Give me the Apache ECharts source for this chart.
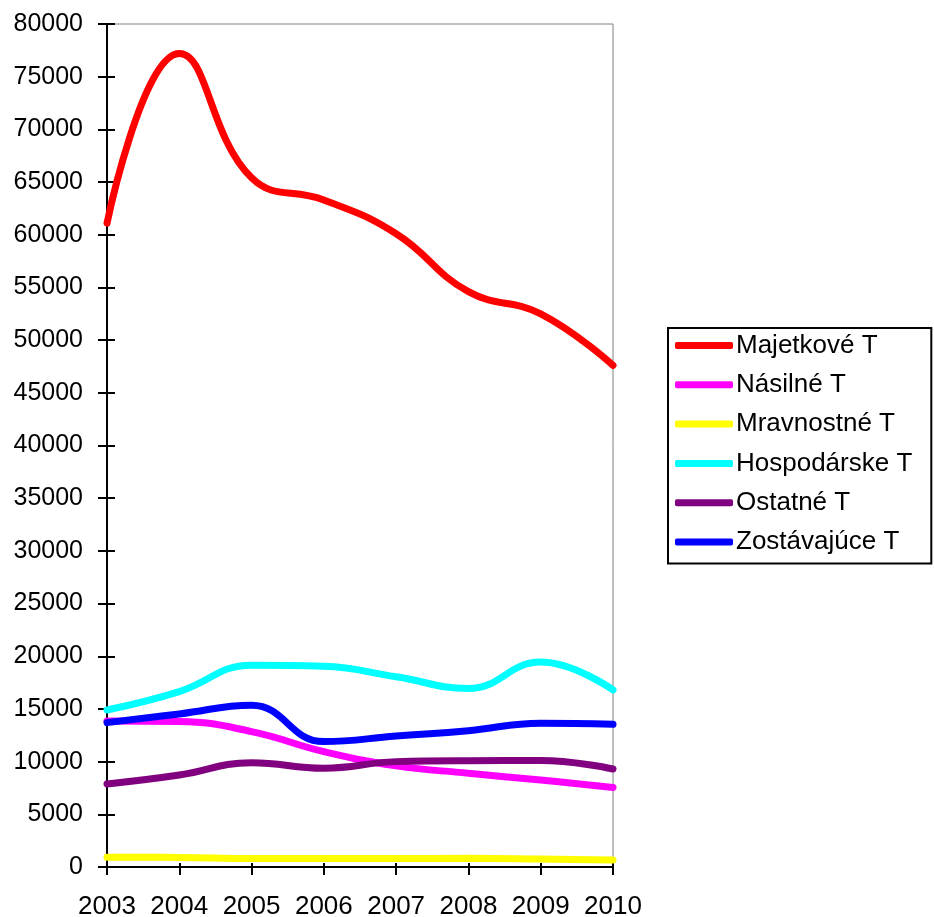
<!DOCTYPE html>
<html>
<head>
<meta charset="utf-8">
<script src="https://cdn.jsdelivr.net/npm/echarts@6/dist/echarts.min.js"></script>
<style>
  html, body { margin: 0; padding: 0; background: #fff; }
  #main { width: 934px; height: 917px; }
</style>
</head>
<body>
<div id="main"></div>
<script>
// roky
var years = ['2003', '2004', '2005', '2006', '2007', '2008', '2009', '2010'];

// hodnoty odčítané z grafu
var majetkove = [61100, 77200, 65400, 63300, 60100, 54600, 52500, 47600];
var nasilne = [13850, 13800, 12850, 10950, 9600, 8900, 8250, 7550];
var mravnostne = [920, 910, 800, 800, 810, 820, 760, 670];
var hospodarske = [14900, 16650, 19150, 19050, 18050, 16950, 19450, 16800];
var ostatne = [7880, 8730, 9900, 9370, 10000, 10090, 10100, 9300];
var zostavajuce = [13700, 14520, 15350, 11900, 12430, 12940, 13640, 13540];

var names = ['Majetkové T', 'Násilné T', 'Mravnostné T', 'Hospodárske T', 'Ostatné T', 'Zostávajúce T'];
var colors = ['#ff0000', '#ff00ff', '#ffff00', '#00ffff', '#800080', '#0000ff'];
var values = [majetkove, nasilne, mravnostne, hospodarske, ostatne, zostavajuce];

window.onload = () => {
    var chartDom = document.getElementById('main');
    var myChart = echarts.init(chartDom, null, { renderer: 'canvas' });
    var font = 'Liberation Sans, Arial, sans-serif';

    var series = names.map(function (n, i) {
        return {
            name: n,
            type: 'line',
            data: values[i],
            smooth: 0.45,
            showSymbol: false,
            symbol: 'none',
            lineStyle: { color: colors[i], width: 7, cap: 'round' },
            itemStyle: { color: colors[i] },
            emphasis: { disabled: true },
            xAxisIndex: 0,
            yAxisIndex: 0
        };
    });

    var option = {
        animation: false,
        backgroundColor: '#ffffff',
        grid: {
            left: 107,
            right: 321,
            top: 24,
            bottom: 50,
            containLabel: false,
            outerBoundsMode: 'none',
            show: true,
            borderColor: '#808080',
            borderWidth: 1,
            backgroundColor: 'transparent'
        },
        legend: {
            orient: 'vertical',
            left: 668,
            top: 328,
            data: names,
            icon: 'roundRect',
            itemWidth: 58,
            itemHeight: 7,
            itemGap: 12.3,
            padding: [4, 19, 8, 7],
            borderColor: '#000',
            borderWidth: 2,
            textStyle: { fontFamily: font, fontSize: 26, color: '#000', padding: [0, 0, 0, -2], lineHeight: 27 }
        },
        xAxis: [{
            type: 'category',
            data: years,
            boundaryGap: false,
            axisLine: { lineStyle: { color: '#000', width: 2 } },
            axisTick: { length: 8, interval: 0, lineStyle: { color: '#000', width: 2 } },
            axisLabel: { fontFamily: font, fontSize: 26, color: '#000', margin: 27, interval: 0, hideOverlap: false },
            splitLine: { show: false }
        }, {
            type: 'category',
            data: years,
            boundaryGap: false,
            position: 'bottom',
            axisLine: { show: false },
            axisTick: { inside: true, length: 4, interval: 0, lineStyle: { color: '#000', width: 2 } },
            axisLabel: { show: false },
            splitLine: { show: false }
        }],
        yAxis: [{
            type: 'value',
            min: 0,
            max: 80000,
            interval: 5000,
            axisLine: { show: true, lineStyle: { color: '#000', width: 2 } },
            axisTick: { show: true, length: 9, lineStyle: { color: '#000', width: 2 } },
            axisLabel: {
                fontFamily: font, fontSize: 25, color: '#000', margin: 24,
                formatter: function (v) { return String(v); }
            },
            splitLine: { show: false }
        }, {
            type: 'value',
            min: 0,
            max: 80000,
            interval: 5000,
            position: 'left',
            axisLine: { show: false },
            axisTick: { show: true, inside: true, length: 8, lineStyle: { color: '#000', width: 2 } },
            axisLabel: { show: false },
            splitLine: { show: false }
        }],
        series: series
    };
    option && myChart.setOption(option);
};
</script>
</body>
</html>
